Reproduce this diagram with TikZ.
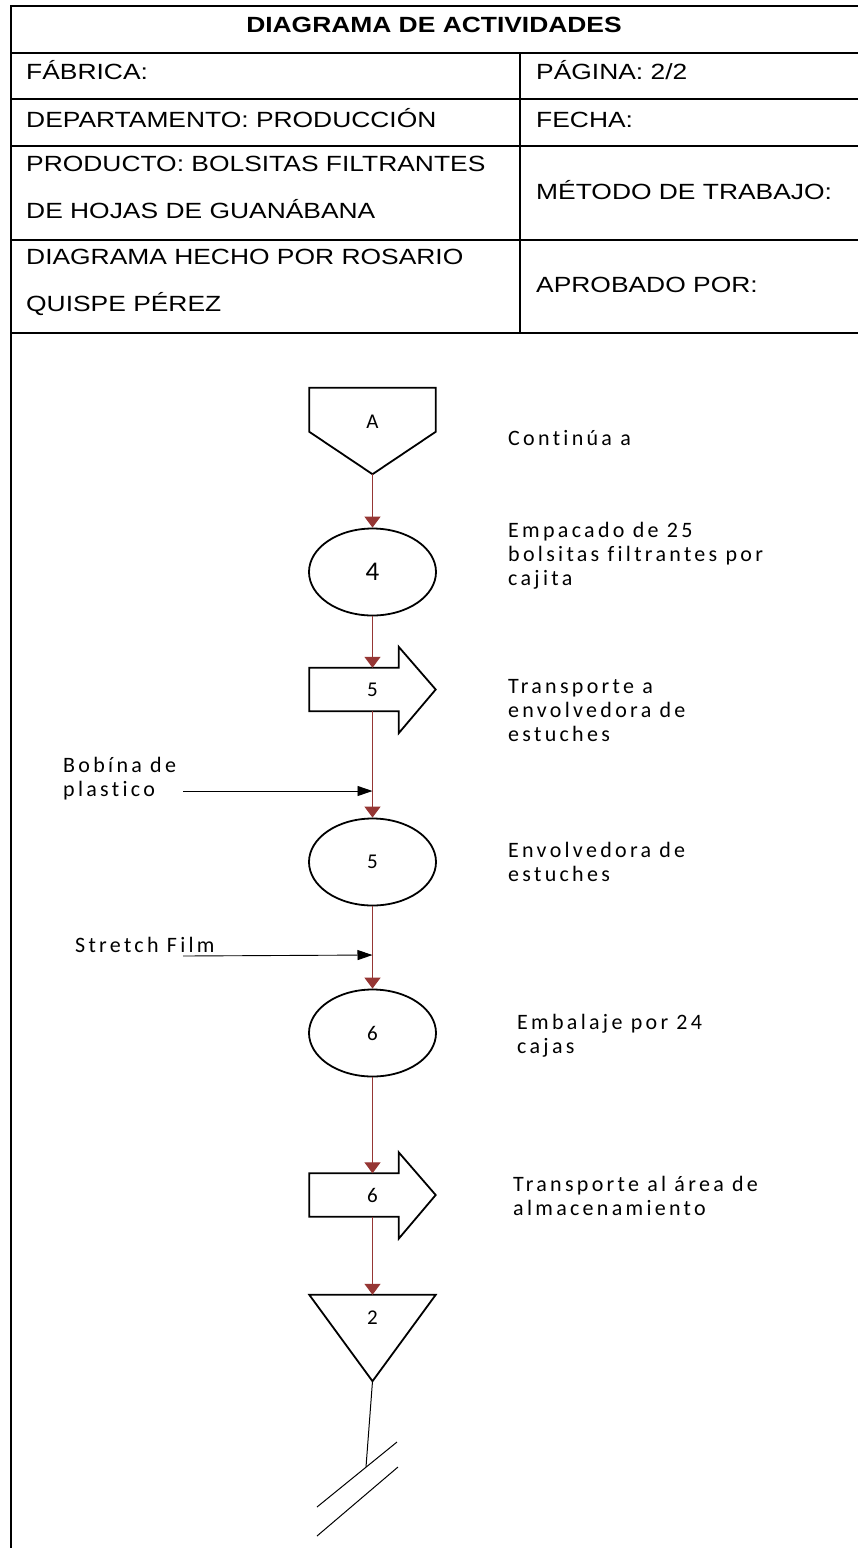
\documentclass[tikz,border=0pt]{standalone}
\usepackage{fontspec}
\setmainfont{Liberation Sans}[FakeStretch=1.2]
\newfontfamily\flowfont{Carlito}[LetterSpace=15,Ligatures=NoCommon]
\newfontfamily\numfont{Carlito}
\usetikzlibrary{arrows.meta,shapes.geometric,calc}
\definecolor{brn}{RGB}{150,54,52}
\newcommand{\mylines}[1]{\begin{tabular}[t]{@{}l@{}}#1\end{tabular}}
\begin{document}
\begin{tikzpicture}[x=1pt,y=-1pt,
  tline/.style={line width=2pt},
  shp/.style={draw=black, line width=1.8pt, line join=miter},
  flow/.style={draw=brn, line width=1.3pt, -{Triangle[length=11pt,width=16pt,fill=brn]}},
  inarr/.style={draw=black, line width=0.9pt, -{Triangle[length=15pt,width=10pt]}},
  thinl/.style={draw=black, line width=1pt},
  cell/.style={anchor=base west, inner sep=0pt, font=\fontsize{22}{47}\selectfont},
  lbl/.style={anchor=base west, inner sep=0pt, font=\flowfont\fontsize{22}{24}\selectfont},
  num/.style={inner sep=0pt, font=\numfont\fontsize{21}{24}\selectfont},
  oval/.style={shp, ellipse, inner sep=0pt, minimum width=127pt, minimum height=87pt, font=\numfont\fontsize{21}{24}\selectfont},
  frame/.style={rectangle, inner sep=0pt, minimum width=126pt, font=\numfont\fontsize{21}{24}\selectfont}
]
\useasboundingbox (0,0) rectangle (858,1548);
% table
\draw[tline] (11,6) -- (858,6);
\draw[tline] (11,53) -- (858,53);
\draw[tline] (11,99) -- (858,99);
\draw[tline] (11,146) -- (858,146);
\draw[tline] (11,240) -- (858,240);
\draw[tline] (11,333) -- (858,333);
\draw[tline] (11,5) -- (11,1548);
\draw[tline] (520,53) -- (520,333);
\node[anchor=base, inner sep=0pt, font=\bfseries\fontsize{22}{26}\selectfont] (title) at (434,32) {DIAGRAMA DE ACTIVIDADES};
\node[cell] (fab) at (26,79) {FÁBRICA:};
\node[cell] (pag) at (536,79) {PÁGINA: 2/2};
\node[cell] (dep) at (26,127) {DEPARTAMENTO: PRODUCCIÓN};
\node[cell] (fec) at (536,127) {FECHA:};
\node[cell] (pro) at (26,171) {\mylines{PRODUCTO: BOLSITAS FILTRANTES\\DE HOJAS DE GUANÁBANA}};
\node[cell] (met) at (536,199) {MÉTODO DE TRABAJO:};
\node[cell] (hec) at (26,264) {\mylines{DIAGRAMA HECHO POR ROSARIO\\QUISPE PÉREZ}};
\node[cell] (apr) at (536,292) {APROBADO POR:};

% off-page connector A
\node[frame, minimum height=86pt] (A) at (372.5,431) {};
\draw[shp] (A.north west) -- (A.north east) -- ($(A.north east)+(0,44)$) -- (A.south) -- ($(A.north west)+(0,44)$) -- cycle;
\node[num] (At) at (372.5,422) {A};

% operation 4
\node[oval, font=\numfont\fontsize{27}{30}\selectfont] (e4) at (372.5,572) {4};

% transport 5
\node[frame, minimum height=43pt] (t5) at (372.5,689.5) {5};
\draw[shp] (t5.north west) -- ($(t5.north east)+(-37,0)$) -- ($(t5.north east)+(-37,-21)$) -- (t5.east)
  -- ($(t5.south east)+(-37,22)$) -- ($(t5.south east)+(-37,0)$) -- (t5.south west) -- cycle;

% operation 5
\node[oval] (e5) at (372.5,862) {5};
% operation 6
\node[oval] (e6) at (372.5,1033) {6};

% transport 6
\node[frame, minimum height=43pt] (t6) at (372.5,1195) {6};
\draw[shp] (t6.north west) -- ($(t6.north east)+(-37,0)$) -- ($(t6.north east)+(-37,-21)$) -- (t6.east)
  -- ($(t6.south east)+(-37,22)$) -- ($(t6.south east)+(-37,0)$) -- (t6.south west) -- cycle;

% storage 2
\node[frame, minimum height=86pt] (s2) at (372.5,1338) {};
\draw[shp] (s2.north west) -- (s2.north east) -- (s2.south) -- cycle;
\node[num] (s2t) at (372.5,1318) {2};

% flow connectors
\draw[flow] (A.south) -- (e4.north);
\draw[flow] (e4.south) -- (t5.north);
\draw[flow] (t5.south) -- (e5.north);
\draw[flow] (e5.south) -- (e6.north);
\draw[flow] (e6.south) -- (t6.north);
\draw[flow] (t6.south) -- (s2.north);

% inputs
\node[lbl] (bob) at (63,772) {\mylines{Bobína de\\plastico}};
\coordinate (bobS) at (183,791);
\coordinate (bobE) at (372.5,791);
\draw[inarr] (bobS) -- (bobE);
\node[lbl] (sf) at (75,952) {Stretch Film};
\coordinate (sfS) at (183,956);
\coordinate (sfE) at (372.5,955);
\draw[inarr] (sfS) -- (sfE);

% right labels
\node[lbl] (l0) at (508,445) {Continúa a};
\node[lbl] (l1) at (508,537) {\mylines{Empacado de 25\\bolsitas filtrantes por\\cajita}};
\node[lbl] (l2) at (508,693) {\mylines{Transporte a\\envolvedora de\\estuches}};
\node[lbl] (l3) at (508,857) {\mylines{Envolvedora de\\estuches}};
\node[lbl] (l4) at (517,1029) {\mylines{Embalaje por 24\\cajas}};
\node[lbl] (l5) at (513,1191) {\mylines{Transporte al área de\\almacenamiento}};

% break mark
\coordinate (brk) at (366,1467);
\draw[thinl] (s2.south) -- (brk);
\coordinate (c1a) at (317,1507);
\coordinate (c1b) at (397,1442);
\coordinate (c2a) at (317,1536);
\coordinate (c2b) at (398,1467);
\draw[thinl] (c1a) -- (c1b);
\draw[thinl] (c2a) -- (c2b);
\end{tikzpicture}
\end{document}
